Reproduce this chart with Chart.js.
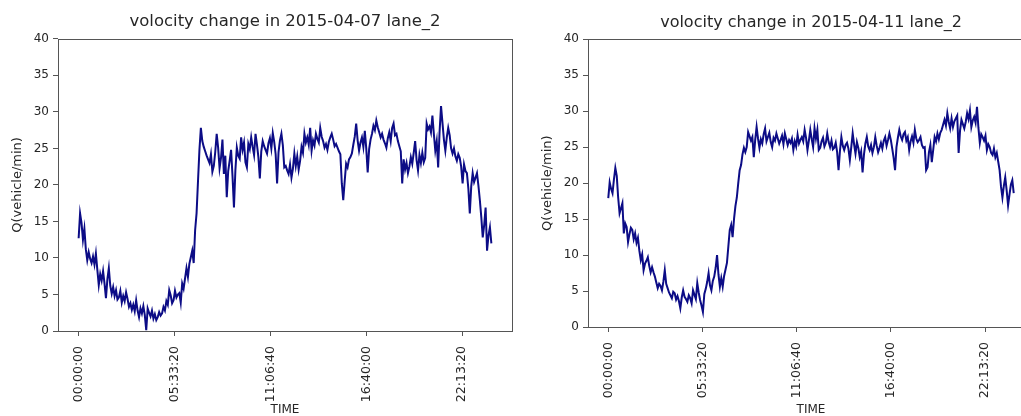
<!DOCTYPE html>
<html lang="en">
<head>
<meta charset="UTF-8">
<title>volocity change lane_2</title>
<script src="https://cdn.jsdelivr.net/npm/chart.js"></script>
<style>
  html, body { margin: 0; padding: 0; background: #fff; overflow: hidden; }
  body { width: 1021px; height: 416px; position: relative; }
  canvas { position: absolute; top: 0; }
  #left { left: 0; }
  #right { left: 520px; }
</style>
</head>
<body>
<canvas id="left" width="520" height="416"></canvas>
<canvas id="right" width="522" height="416"></canvas>

<script>
// samples every 5 minutes, 288 per day
const STEP_SEC = 300;
const xTicks = [0, 20000, 40000, 60000, 80000];
const yTicks = [0, 5, 10, 15, 20, 25, 30, 35, 40];

// 2015-04-07, lane_2
const lane2_0407 = [
  12.7, 16.1, 14.8, 12.5, 14.0, 11.2, 9.7, 10.8, 9.9, 9.3,
  10.2, 9.1, 10.6, 8.4, 6.3, 7.8, 6.9, 8.2, 6.5, 4.5,
  7.1, 8.6, 6.2, 5.1, 6.0, 4.8, 5.6, 4.3, 4.6, 5.5,
  3.9, 4.8, 4.1, 5.3, 4.4, 3.3, 3.8, 2.9, 3.6, 2.7,
  4.2, 2.8, 1.9, 3.1, 2.4, 3.4, 2.2, 0.1, 3.1, 2.5,
  2.0, 2.8, 1.7, 2.3, 1.5, 1.9, 2.6, 2.1, 2.4, 3.3,
  2.8, 4.1, 3.6, 5.6, 4.9, 3.8, 4.2, 5.5, 4.6, 5.0,
  5.2, 3.9, 6.5, 5.8, 7.2, 8.6, 7.4, 9.2, 10.1, 11.0,
  9.3, 13.8, 16.1, 20.5, 24.8, 27.8, 26.0, 25.2, 24.6, 24.0,
  23.5, 23.0, 24.2, 21.8, 22.6, 24.5, 27.0, 25.1, 22.3, 23.7,
  26.2, 21.5, 24.0, 18.3, 21.9, 23.3, 24.8, 21.2, 16.9, 22.0,
  25.1, 24.0, 23.6, 26.5, 24.8, 25.8, 23.1, 22.4, 25.6, 24.9,
  26.5, 25.2, 24.1, 27.0, 25.5, 23.8, 20.9, 24.6, 26.0, 25.3,
  24.8, 24.3, 25.7, 26.4, 25.0, 27.1, 25.9, 24.2, 20.2, 24.5,
  26.1, 27.0, 25.4, 22.4, 22.6, 22.0, 21.5, 22.8, 21.0, 22.2,
  24.3, 22.6, 23.9, 22.1, 23.3, 25.2, 24.4, 27.0, 25.8, 26.5,
  25.5, 27.8, 24.7, 26.1, 25.4, 27.0, 26.3, 25.8, 27.8, 26.6,
  26.0, 25.1, 25.6, 24.8, 25.9, 26.5, 27.0, 26.2, 25.3, 25.6,
  25.1, 24.6, 24.2, 20.2, 17.9, 20.5, 22.9, 22.4, 23.5, 23.8,
  24.3, 25.5, 26.6, 28.4, 26.1, 24.7, 25.8, 26.5, 25.2, 27.4,
  25.0, 21.7, 24.9, 26.2, 27.0, 28.1, 27.5, 28.8, 27.9, 27.2,
  26.5, 27.0, 26.2, 25.7, 25.1, 26.4, 27.2, 26.0, 27.8, 28.4,
  26.8, 27.0, 26.0, 25.3, 24.6, 20.2, 23.5, 22.1, 23.0, 21.6,
  22.5, 23.8, 22.9, 24.4, 26.0, 23.4, 22.0, 24.1, 23.0, 24.4,
  23.1, 23.7, 28.4, 27.6, 28.0, 27.2, 29.5, 27.0, 24.7, 26.0,
  22.4, 27.3, 30.8, 28.5, 26.2, 24.7, 26.5, 27.8, 26.8, 25.0,
  24.3, 25.0, 23.9, 23.3, 24.2, 23.7, 22.5, 20.2, 22.8, 21.9,
  21.6, 19.5, 16.1, 19.8, 21.6, 20.4, 21.0, 21.6, 19.9, 17.9,
  15.6, 12.8, 14.5, 16.9, 11.0, 13.1, 14.2, 12.0
];

// 2015-04-11, lane_2
const lane2_0411 = [
  17.9, 20.1, 19.2, 18.6, 20.5, 22.1, 21.0, 18.0, 15.8, 16.5,
  17.2, 13.0, 14.4, 13.9, 11.8, 12.9, 13.8, 13.5, 12.2, 13.0,
  11.7, 12.4, 10.6, 9.3, 10.1, 7.9, 8.8, 9.2, 9.7, 8.5,
  7.6, 8.3, 7.6, 7.0, 6.2, 5.4, 6.0, 5.7, 5.1, 6.3,
  7.9, 6.0, 5.4, 4.8, 4.4, 4.0, 4.9, 4.7, 3.8, 4.3,
  3.6, 2.6, 4.1, 5.1, 4.2, 3.9, 3.5, 4.4, 4.0, 3.3,
  5.1, 4.5, 3.9, 6.1, 4.8, 3.75, 3.0, 2.1, 4.6, 5.3,
  6.25, 7.5, 5.8, 5.1, 6.4, 7.0, 8.2, 10.0, 7.3, 5.6,
  6.8, 5.6, 7.1, 8.0, 8.9, 11.2, 13.5, 14.2, 12.5, 15.0,
  16.8, 18.0, 20.0, 21.8, 22.5, 24.0, 24.9, 24.3, 25.0, 27.1,
  26.5, 25.9, 26.4, 23.6, 26.0, 27.8, 26.2, 24.9, 26.1, 25.5,
  26.8, 27.6, 25.8, 26.4, 27.0, 25.7, 25.0, 26.3, 25.9, 26.9,
  26.2, 25.5, 26.0, 26.6, 25.4, 26.9, 26.1, 25.3, 26.0, 25.6,
  26.2, 24.6, 25.8, 25.1, 26.7, 25.5, 26.0, 26.4, 25.8, 27.4,
  26.3, 24.6, 25.9, 27.4, 26.1, 25.0, 27.6, 26.2, 27.4, 24.6,
  24.9, 25.8, 26.3, 25.1, 25.6, 26.9, 25.7, 25.0, 25.9, 24.7,
  24.9, 25.6, 24.3, 21.8, 24.5, 26.4, 25.2, 24.6, 25.3, 25.6,
  24.8, 23.2, 25.0, 26.9, 25.4, 24.1, 25.7, 24.9, 23.6, 24.4,
  21.5, 24.0, 25.5, 26.4, 25.1, 24.6, 25.3, 24.2, 25.0, 26.4,
  25.2, 24.3, 24.9, 25.6, 24.8, 25.9, 26.4, 25.2, 26.0, 26.9,
  26.0, 24.8, 23.5, 21.8, 25.0, 26.3, 27.4, 26.5, 26.0, 26.8,
  27.1, 25.9, 26.4, 24.6, 25.8, 26.5, 25.6, 27.4, 26.2, 25.7,
  26.0, 26.4, 25.3, 24.9, 25.0, 21.8, 22.2, 24.3, 25.3, 22.9,
  24.6, 26.4, 25.8, 26.9, 26.1, 27.0, 27.4, 28.1, 28.8, 28.0,
  29.7, 28.5, 27.6, 29.0, 27.8, 28.6, 29.0, 29.4, 24.2, 27.3,
  28.8, 28.2, 27.6, 28.5, 29.7, 28.9, 30.1, 27.8, 28.7, 29.2,
  28.4, 30.6, 27.7, 25.6, 26.8, 26.4, 25.9, 26.6, 24.6, 25.4,
  25.0, 24.2, 23.9, 24.8, 23.6, 24.2, 23.0, 21.8, 19.5, 18.0,
  19.6, 20.8, 19.0, 16.9, 18.4, 19.8, 20.4, 18.6
];

const LINE = '#0c0c86';
const AXIS = '#555';
const TEXT = '#262626';
const FONT = 'DejaVu Sans';

function hms(sec) {
  const h = Math.floor(sec / 3600), m = Math.floor(sec % 3600 / 60), s = sec % 60;
  return [h, m, s].map(v => String(v).padStart(2, '0')).join(':');
}

// matplotlib-like box around the axes
const frame = {
  id: 'frame',
  afterDraw(chart) {
    const a = chart.chartArea, ctx = chart.ctx;
    ctx.save();
    ctx.strokeStyle = AXIS;
    ctx.lineWidth = 1;
    ctx.strokeRect(Math.round(a.left) + 0.5, Math.round(a.top) + 0.5,
                   Math.round(a.right - a.left), Math.round(a.bottom - a.top));
    ctx.restore();
  }
};

function makeChart(id, title, values, box) {
  const span = (values.length - 1) * STEP_SEC;
  const pad = span * 0.05;
  const points = values.map((v, i) => ({ x: i * STEP_SEC, y: v }));
  return new Chart(document.getElementById(id), {
    type: 'line',
    data: { datasets: [{
      data: points,
      borderColor: LINE,
      borderWidth: 2,
      pointRadius: 0,
      tension: 0
    }] },
    options: {
      responsive: false,
      animation: false,
      layout: { padding: { left: box.padLeft, right: box.padRight, top: 0, bottom: 0 } },
      plugins: {
        legend: { display: false },
        tooltip: { enabled: false },
        title: {
          display: true,
          text: title,
          fullSize: false,
          color: TEXT,
          font: { family: FONT, size: box.titleSize, weight: 'normal' },
          padding: { top: box.titleTop, bottom: box.titleBottom }
        }
      },
      scales: {
        x: {
          type: 'linear',
          min: -pad,
          max: span + pad,
          afterBuildTicks: ax => { ax.ticks = xTicks.map(v => ({ value: v })); },
          afterFit: ax => { ax.height = box.xHeight; },
          border: { display: false },
          grid: { drawOnChartArea: false, drawTicks: true, tickLength: 5, color: AXIS },
          ticks: {
            minRotation: 90, maxRotation: 90, padding: 10,
            color: TEXT,
            font: { family: FONT, size: 12.5 },
            callback: v => hms(v)
          },
          title: {
            display: true, text: 'TIME', color: TEXT,
            font: { family: FONT, size: 12 },
            padding: { top: 0, bottom: -1 }
          }
        },
        y: {
          min: 0, max: 40,
          afterBuildTicks: ax => { ax.ticks = yTicks.map(v => ({ value: v })); },
          afterFit: ax => { ax.width = box.yWidth; },
          border: { display: false },
          grid: { drawOnChartArea: false, drawTicks: true, tickLength: 5, color: AXIS },
          ticks: {
            padding: 4, color: TEXT,
            font: { family: FONT, size: 12 }
          },
          title: {
            display: true, text: 'Q(vehicle/min)', color: TEXT,
            font: { family: FONT, size: 13 },
            padding: { top: 10, bottom: 0 }
          }
        }
      }
    },
    plugins: [frame]
  });
}

makeChart('left', 'volocity change in 2015-04-07 lane_2', lane2_0407,
  { padLeft: 0, padRight: 8, yWidth: 58, xHeight: 85, titleSize: 16.5, titleTop: 12, titleBottom: 7 });
makeChart('right', 'volocity change in 2015-04-11 lane_2', lane2_0411,
  { padLeft: 10, padRight: 8, yWidth: 58, xHeight: 89, titleSize: 16, titleTop: 13, titleBottom: 7 });
</script>
</body>
</html>
